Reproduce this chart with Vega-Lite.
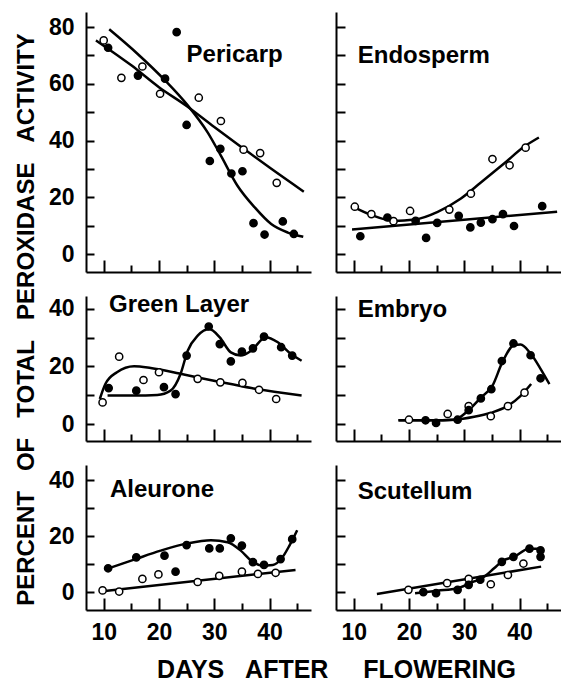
{
  "$schema": "https://vega.github.io/schema/vega-lite/v6.json",
  "padding": {"left": 13, "top": 12, "right": 0, "bottom": 0},
  "background": "white",
  "config": {
    "view": {"stroke": null},
    "axis": {"grid": false, "domainColor": "black", "domainWidth": 2, "tickColor": "black", "tickWidth": 2, "labelColor": "black", "labelFont": "Liberation Sans", "labelFontSize": 23, "labelFontWeight": "bold", "labelFlush": false, "labelOverlap": false, "titleFont": "Liberation Sans", "titleColor": "black", "titleFontWeight": "bold", "titleFontSize": 24}
  },
  "datasets": {
    "pts": [
      {"panel": "Pericarp", "type": "open", "day": 10.0, "pct": 75.3},
      {"panel": "Pericarp", "type": "open", "day": 13.2, "pct": 62.1},
      {"panel": "Pericarp", "type": "open", "day": 17.0, "pct": 66.1},
      {"panel": "Pericarp", "type": "open", "day": 20.2, "pct": 56.5},
      {"panel": "Pericarp", "type": "open", "day": 27.2, "pct": 55.1},
      {"panel": "Pericarp", "type": "open", "day": 31.2, "pct": 46.9},
      {"panel": "Pericarp", "type": "open", "day": 35.3, "pct": 36.8},
      {"panel": "Pericarp", "type": "open", "day": 38.3, "pct": 35.6},
      {"panel": "Pericarp", "type": "open", "day": 41.3, "pct": 25.1},
      {"panel": "Pericarp", "type": "filled", "day": 10.8, "pct": 72.7},
      {"panel": "Pericarp", "type": "filled", "day": 16.2, "pct": 62.9},
      {"panel": "Pericarp", "type": "filled", "day": 21.1, "pct": 61.8},
      {"panel": "Pericarp", "type": "filled", "day": 23.2, "pct": 78.2},
      {"panel": "Pericarp", "type": "filled", "day": 25.0, "pct": 45.5},
      {"panel": "Pericarp", "type": "filled", "day": 29.2, "pct": 32.8},
      {"panel": "Pericarp", "type": "filled", "day": 31.1, "pct": 37.1},
      {"panel": "Pericarp", "type": "filled", "day": 33.1, "pct": 28.4},
      {"panel": "Pericarp", "type": "filled", "day": 35.1, "pct": 29.2},
      {"panel": "Pericarp", "type": "filled", "day": 37.1, "pct": 10.9},
      {"panel": "Pericarp", "type": "filled", "day": 39.1, "pct": 6.9},
      {"panel": "Pericarp", "type": "filled", "day": 42.4, "pct": 11.5},
      {"panel": "Pericarp", "type": "filled", "day": 44.4, "pct": 7.1},
      {"panel": "Endosperm", "type": "open", "day": 10.2, "pct": 16.7},
      {"panel": "Endosperm", "type": "open", "day": 13.2, "pct": 14.1},
      {"panel": "Endosperm", "type": "open", "day": 17.2, "pct": 11.6},
      {"panel": "Endosperm", "type": "open", "day": 20.2, "pct": 15.2},
      {"panel": "Endosperm", "type": "open", "day": 27.3, "pct": 15.7},
      {"panel": "Endosperm", "type": "open", "day": 31.2, "pct": 21.3},
      {"panel": "Endosperm", "type": "open", "day": 35.1, "pct": 33.5},
      {"panel": "Endosperm", "type": "open", "day": 38.2, "pct": 31.3},
      {"panel": "Endosperm", "type": "open", "day": 41.1, "pct": 37.5},
      {"panel": "Endosperm", "type": "filled", "day": 11.2, "pct": 6.3},
      {"panel": "Endosperm", "type": "filled", "day": 16.1, "pct": 12.9},
      {"panel": "Endosperm", "type": "filled", "day": 21.2, "pct": 11.7},
      {"panel": "Endosperm", "type": "filled", "day": 23.1, "pct": 5.7},
      {"panel": "Endosperm", "type": "filled", "day": 25.1, "pct": 11.0},
      {"panel": "Endosperm", "type": "filled", "day": 29.0, "pct": 13.5},
      {"panel": "Endosperm", "type": "filled", "day": 31.1, "pct": 9.4},
      {"panel": "Endosperm", "type": "filled", "day": 33.0, "pct": 11.1},
      {"panel": "Endosperm", "type": "filled", "day": 35.1, "pct": 12.3},
      {"panel": "Endosperm", "type": "filled", "day": 37.0, "pct": 14.1},
      {"panel": "Endosperm", "type": "filled", "day": 39.0, "pct": 9.9},
      {"panel": "Endosperm", "type": "filled", "day": 44.1, "pct": 16.9},
      {"panel": "Green Layer", "type": "open", "day": 9.8, "pct": 7.5},
      {"panel": "Green Layer", "type": "open", "day": 12.8, "pct": 23.4},
      {"panel": "Green Layer", "type": "open", "day": 17.2, "pct": 15.3},
      {"panel": "Green Layer", "type": "open", "day": 20.0, "pct": 18.0},
      {"panel": "Green Layer", "type": "open", "day": 27.0, "pct": 15.7},
      {"panel": "Green Layer", "type": "open", "day": 31.1, "pct": 14.5},
      {"panel": "Green Layer", "type": "open", "day": 35.1, "pct": 14.3},
      {"panel": "Green Layer", "type": "open", "day": 38.1, "pct": 11.9},
      {"panel": "Green Layer", "type": "open", "day": 41.2, "pct": 8.7},
      {"panel": "Green Layer", "type": "filled", "day": 10.9, "pct": 12.5},
      {"panel": "Green Layer", "type": "filled", "day": 15.9, "pct": 11.6},
      {"panel": "Green Layer", "type": "filled", "day": 20.9, "pct": 12.8},
      {"panel": "Green Layer", "type": "filled", "day": 23.0, "pct": 10.4},
      {"panel": "Green Layer", "type": "filled", "day": 25.0, "pct": 23.8},
      {"panel": "Green Layer", "type": "filled", "day": 29.0, "pct": 33.9},
      {"panel": "Green Layer", "type": "filled", "day": 31.0, "pct": 27.8},
      {"panel": "Green Layer", "type": "filled", "day": 33.0, "pct": 21.8},
      {"panel": "Green Layer", "type": "filled", "day": 35.0, "pct": 25.2},
      {"panel": "Green Layer", "type": "filled", "day": 37.0, "pct": 26.3},
      {"panel": "Green Layer", "type": "filled", "day": 39.0, "pct": 30.4},
      {"panel": "Green Layer", "type": "filled", "day": 42.1, "pct": 26.7},
      {"panel": "Green Layer", "type": "filled", "day": 44.1, "pct": 23.8},
      {"panel": "Embryo", "type": "open", "day": 20.0, "pct": 1.5},
      {"panel": "Embryo", "type": "open", "day": 27.0, "pct": 3.5},
      {"panel": "Embryo", "type": "open", "day": 30.8, "pct": 6.2},
      {"panel": "Embryo", "type": "open", "day": 34.8, "pct": 2.7},
      {"panel": "Embryo", "type": "open", "day": 37.9, "pct": 6.2},
      {"panel": "Embryo", "type": "open", "day": 40.9, "pct": 10.9},
      {"panel": "Embryo", "type": "filled", "day": 23.0, "pct": 1.3},
      {"panel": "Embryo", "type": "filled", "day": 24.9, "pct": 0.4},
      {"panel": "Embryo", "type": "filled", "day": 28.8, "pct": 1.5},
      {"panel": "Embryo", "type": "filled", "day": 30.8, "pct": 4.8},
      {"panel": "Embryo", "type": "filled", "day": 33.0, "pct": 8.9},
      {"panel": "Embryo", "type": "filled", "day": 34.9, "pct": 12.1},
      {"panel": "Embryo", "type": "filled", "day": 36.8, "pct": 21.9},
      {"panel": "Embryo", "type": "filled", "day": 38.9, "pct": 28.0},
      {"panel": "Embryo", "type": "filled", "day": 42.0, "pct": 23.9},
      {"panel": "Embryo", "type": "filled", "day": 43.8, "pct": 15.9},
      {"panel": "Aleurone", "type": "open", "day": 9.8, "pct": 0.6},
      {"panel": "Aleurone", "type": "open", "day": 12.8, "pct": 0.2},
      {"panel": "Aleurone", "type": "open", "day": 17.0, "pct": 4.7},
      {"panel": "Aleurone", "type": "open", "day": 19.9, "pct": 6.3},
      {"panel": "Aleurone", "type": "open", "day": 27.0, "pct": 3.6},
      {"panel": "Aleurone", "type": "open", "day": 30.9, "pct": 5.8},
      {"panel": "Aleurone", "type": "open", "day": 35.0, "pct": 7.3},
      {"panel": "Aleurone", "type": "open", "day": 37.9, "pct": 6.5},
      {"panel": "Aleurone", "type": "open", "day": 41.1, "pct": 6.9},
      {"panel": "Aleurone", "type": "filled", "day": 10.8, "pct": 8.5},
      {"panel": "Aleurone", "type": "filled", "day": 15.9, "pct": 12.4},
      {"panel": "Aleurone", "type": "filled", "day": 21.0, "pct": 13.0},
      {"panel": "Aleurone", "type": "filled", "day": 23.0, "pct": 7.3},
      {"panel": "Aleurone", "type": "filled", "day": 25.0, "pct": 16.8},
      {"panel": "Aleurone", "type": "filled", "day": 29.1, "pct": 15.6},
      {"panel": "Aleurone", "type": "filled", "day": 31.0, "pct": 15.6},
      {"panel": "Aleurone", "type": "filled", "day": 33.0, "pct": 19.2},
      {"panel": "Aleurone", "type": "filled", "day": 35.0, "pct": 16.6},
      {"panel": "Aleurone", "type": "filled", "day": 37.0, "pct": 10.7},
      {"panel": "Aleurone", "type": "filled", "day": 39.0, "pct": 9.7},
      {"panel": "Aleurone", "type": "filled", "day": 42.0, "pct": 11.8},
      {"panel": "Aleurone", "type": "filled", "day": 44.1, "pct": 18.9},
      {"panel": "Scutellum", "type": "open", "day": 19.9, "pct": 0.8},
      {"panel": "Scutellum", "type": "open", "day": 26.9, "pct": 3.2},
      {"panel": "Scutellum", "type": "open", "day": 30.8, "pct": 4.7},
      {"panel": "Scutellum", "type": "open", "day": 34.8, "pct": 2.8},
      {"panel": "Scutellum", "type": "open", "day": 37.9, "pct": 6.1},
      {"panel": "Scutellum", "type": "open", "day": 40.7, "pct": 10.2},
      {"panel": "Scutellum", "type": "filled", "day": 22.6, "pct": 0.0},
      {"panel": "Scutellum", "type": "filled", "day": 24.9, "pct": -0.4},
      {"panel": "Scutellum", "type": "filled", "day": 28.8, "pct": 0.8},
      {"panel": "Scutellum", "type": "filled", "day": 30.8, "pct": 2.6},
      {"panel": "Scutellum", "type": "filled", "day": 32.9, "pct": 4.4},
      {"panel": "Scutellum", "type": "filled", "day": 36.8, "pct": 10.8},
      {"panel": "Scutellum", "type": "filled", "day": 38.9, "pct": 12.6},
      {"panel": "Scutellum", "type": "filled", "day": 41.8, "pct": 15.5},
      {"panel": "Scutellum", "type": "filled", "day": 43.8, "pct": 14.9},
      {"panel": "Scutellum", "type": "filled", "day": 43.8, "pct": 12.6}
    ],
    "curves": [
      {"panel": "Pericarp", "series": "open", "day": 8.6, "pct": 75.3},
      {"panel": "Pericarp", "series": "open", "day": 15, "pct": 66.5},
      {"panel": "Pericarp", "series": "open", "day": 20, "pct": 58.8},
      {"panel": "Pericarp", "series": "open", "day": 25, "pct": 52.2},
      {"panel": "Pericarp", "series": "open", "day": 30, "pct": 44.8},
      {"panel": "Pericarp", "series": "open", "day": 35, "pct": 37.6},
      {"panel": "Pericarp", "series": "open", "day": 40, "pct": 30.5},
      {"panel": "Pericarp", "series": "open", "day": 46.2, "pct": 22.0},
      {"panel": "Pericarp", "series": "filled", "day": 11.0, "pct": 79.2},
      {"panel": "Pericarp", "series": "filled", "day": 16.1, "pct": 70.6},
      {"panel": "Pericarp", "series": "filled", "day": 21.1, "pct": 61.2},
      {"panel": "Pericarp", "series": "filled", "day": 25.2, "pct": 52.4},
      {"panel": "Pericarp", "series": "filled", "day": 28.8, "pct": 42.9},
      {"panel": "Pericarp", "series": "filled", "day": 31.2, "pct": 34.7},
      {"panel": "Pericarp", "series": "filled", "day": 34.2, "pct": 24.1},
      {"panel": "Pericarp", "series": "filled", "day": 37.3, "pct": 16.5},
      {"panel": "Pericarp", "series": "filled", "day": 40.3, "pct": 10.6},
      {"panel": "Pericarp", "series": "filled", "day": 43.3, "pct": 7.6},
      {"panel": "Pericarp", "series": "filled", "day": 46.1, "pct": 6.1},
      {"panel": "Endosperm", "series": "filled", "day": 9.7, "pct": 8.7},
      {"panel": "Endosperm", "series": "filled", "day": 46.8, "pct": 14.9},
      {"panel": "Endosperm", "series": "open", "day": 10.2, "pct": 16.4},
      {"panel": "Endosperm", "series": "open", "day": 13.3, "pct": 13.7},
      {"panel": "Endosperm", "series": "open", "day": 17.2, "pct": 11.7},
      {"panel": "Endosperm", "series": "open", "day": 21.1, "pct": 12.2},
      {"panel": "Endosperm", "series": "open", "day": 25.2, "pct": 14.9},
      {"panel": "Endosperm", "series": "open", "day": 29.4, "pct": 19.6},
      {"panel": "Endosperm", "series": "open", "day": 33.0, "pct": 25.2},
      {"panel": "Endosperm", "series": "open", "day": 37.2, "pct": 31.9},
      {"panel": "Endosperm", "series": "open", "day": 40.8, "pct": 37.8},
      {"panel": "Endosperm", "series": "open", "day": 43.5, "pct": 41.1},
      {"panel": "Green Layer", "series": "open", "day": 9.3, "pct": 8.7},
      {"panel": "Green Layer", "series": "open", "day": 10.3, "pct": 13.9},
      {"panel": "Green Layer", "series": "open", "day": 12.4, "pct": 18.0},
      {"panel": "Green Layer", "series": "open", "day": 15.5, "pct": 20.1},
      {"panel": "Green Layer", "series": "open", "day": 18.5, "pct": 19.5},
      {"panel": "Green Layer", "series": "open", "day": 24.5, "pct": 17.2},
      {"panel": "Green Layer", "series": "open", "day": 30.6, "pct": 14.8},
      {"panel": "Green Layer", "series": "open", "day": 36.7, "pct": 12.5},
      {"panel": "Green Layer", "series": "open", "day": 45.8, "pct": 9.9},
      {"panel": "Green Layer", "series": "filled", "day": 10.7, "pct": 9.9},
      {"panel": "Green Layer", "series": "filled", "day": 15.5, "pct": 9.9},
      {"panel": "Green Layer", "series": "filled", "day": 19.7, "pct": 10.1},
      {"panel": "Green Layer", "series": "filled", "day": 22.1, "pct": 11.6},
      {"panel": "Green Layer", "series": "filled", "day": 23.9, "pct": 17.4},
      {"panel": "Green Layer", "series": "filled", "day": 25.2, "pct": 25.5},
      {"panel": "Green Layer", "series": "filled", "day": 27.0, "pct": 30.7},
      {"panel": "Green Layer", "series": "filled", "day": 29.1, "pct": 33.0},
      {"panel": "Green Layer", "series": "filled", "day": 31.0, "pct": 30.1},
      {"panel": "Green Layer", "series": "filled", "day": 33.0, "pct": 24.9},
      {"panel": "Green Layer", "series": "filled", "day": 34.8, "pct": 23.8},
      {"panel": "Green Layer", "series": "filled", "day": 36.7, "pct": 25.5},
      {"panel": "Green Layer", "series": "filled", "day": 39.3, "pct": 30.2},
      {"panel": "Green Layer", "series": "filled", "day": 41.5, "pct": 28.4},
      {"panel": "Green Layer", "series": "filled", "day": 43.9, "pct": 24.3},
      {"panel": "Green Layer", "series": "filled", "day": 45.8, "pct": 22.0},
      {"panel": "Embryo", "series": "filled", "day": 18.1, "pct": 1.3},
      {"panel": "Embryo", "series": "filled", "day": 24.0, "pct": 1.3},
      {"panel": "Embryo", "series": "filled", "day": 28.2, "pct": 1.5},
      {"panel": "Embryo", "series": "filled", "day": 30.6, "pct": 4.5},
      {"panel": "Embryo", "series": "filled", "day": 33.0, "pct": 9.2},
      {"panel": "Embryo", "series": "filled", "day": 35.1, "pct": 13.3},
      {"panel": "Embryo", "series": "filled", "day": 36.9, "pct": 21.5},
      {"panel": "Embryo", "series": "filled", "day": 39.0, "pct": 27.4},
      {"panel": "Embryo", "series": "filled", "day": 40.2, "pct": 27.6},
      {"panel": "Embryo", "series": "filled", "day": 42.0, "pct": 24.5},
      {"panel": "Embryo", "series": "filled", "day": 43.8, "pct": 19.2},
      {"panel": "Embryo", "series": "filled", "day": 45.4, "pct": 13.9},
      {"panel": "Embryo", "series": "open", "day": 18.1, "pct": 1.3},
      {"panel": "Embryo", "series": "open", "day": 24.0, "pct": 1.3},
      {"panel": "Embryo", "series": "open", "day": 28.2, "pct": 1.5},
      {"panel": "Embryo", "series": "open", "day": 31.8, "pct": 2.5},
      {"panel": "Embryo", "series": "open", "day": 34.8, "pct": 3.9},
      {"panel": "Embryo", "series": "open", "day": 37.8, "pct": 6.2},
      {"panel": "Embryo", "series": "open", "day": 40.2, "pct": 9.8},
      {"panel": "Embryo", "series": "open", "day": 42.1, "pct": 13.9},
      {"panel": "Aleurone", "series": "open", "day": 9.4, "pct": 0.2},
      {"panel": "Aleurone", "series": "open", "day": 44.7, "pct": 7.9},
      {"panel": "Aleurone", "series": "filled", "day": 10.6, "pct": 8.3},
      {"panel": "Aleurone", "series": "filled", "day": 15.5, "pct": 11.6},
      {"panel": "Aleurone", "series": "filled", "day": 20.3, "pct": 14.8},
      {"panel": "Aleurone", "series": "filled", "day": 25.2, "pct": 17.4},
      {"panel": "Aleurone", "series": "filled", "day": 29.4, "pct": 18.5},
      {"panel": "Aleurone", "series": "filled", "day": 32.4, "pct": 17.8},
      {"panel": "Aleurone", "series": "filled", "day": 34.8, "pct": 14.8},
      {"panel": "Aleurone", "series": "filled", "day": 36.7, "pct": 11.2},
      {"panel": "Aleurone", "series": "filled", "day": 38.5, "pct": 9.5},
      {"panel": "Aleurone", "series": "filled", "day": 40.6, "pct": 9.7},
      {"panel": "Aleurone", "series": "filled", "day": 42.1, "pct": 11.8},
      {"panel": "Aleurone", "series": "filled", "day": 43.6, "pct": 16.6},
      {"panel": "Aleurone", "series": "filled", "day": 45.0, "pct": 22.1},
      {"panel": "Scutellum", "series": "open", "day": 14.2, "pct": -0.7},
      {"panel": "Scutellum", "series": "open", "day": 43.9, "pct": 9.1},
      {"panel": "Scutellum", "series": "filled", "day": 21.1, "pct": -0.4},
      {"panel": "Scutellum", "series": "filled", "day": 25.2, "pct": 0.5},
      {"panel": "Scutellum", "series": "filled", "day": 28.8, "pct": 1.4},
      {"panel": "Scutellum", "series": "filled", "day": 31.8, "pct": 3.8},
      {"panel": "Scutellum", "series": "filled", "day": 33.6, "pct": 5.5},
      {"panel": "Scutellum", "series": "filled", "day": 35.4, "pct": 8.5},
      {"panel": "Scutellum", "series": "filled", "day": 36.9, "pct": 11.1},
      {"panel": "Scutellum", "series": "filled", "day": 39.0, "pct": 12.6},
      {"panel": "Scutellum", "series": "filled", "day": 41.7, "pct": 15.5},
      {"panel": "Scutellum", "series": "filled", "day": 44.2, "pct": 15.5}
    ],
    "labels": [
      {"panel": "Pericarp", "label": "Pericarp", "day": 25.0, "pct": 67.7},
      {"panel": "Endosperm", "label": "Endosperm", "day": 10.73, "pct": 67.3},
      {"panel": "Green Layer", "label": "Green Layer", "day": 10.96, "pct": 39.0},
      {"panel": "Embryo", "label": "Embryo", "day": 10.73, "pct": 37.2},
      {"panel": "Aleurone", "label": "Aleurone", "day": 11.14, "pct": 34.0},
      {"panel": "Scutellum", "label": "Scutellum", "day": 10.73, "pct": 33.25}
    ]
  },
  "columns": 2,
  "align": "each",
  "bounds": "flush",
  "spacing": {"row": 24, "column": 25},
  "concat": [
    {
      "width": 225, "height": 260,
      "encoding": {
        "x": {"field": "day", "type": "quantitative", "scale": {"domain": [6.8, 47.5], "nice": false, "zero": false},
              "axis": {"values": [10, 15, 20, 25, 30, 35, 40, 45], "tickSize": {"condition": {"test": "datum.value % 10 === 0", "value": -12}, "value": -7}, "labels": false, "title": null}},
        "y": {"field": "pct", "type": "quantitative", "scale": {"domain": [-6.3, 85.3], "nice": false, "zero": false},
              "axis": {"values": [0, 10, 20, 30, 40, 50, 60, 70, 80], "tickSize": -8, "labelPadding": 20, "labelExpr": "datum.value % 20 === 0 ? datum.label : ''", "title": null}}
      },
      "layer": [
        {"data": {"name": "curves"}, "transform": [{"filter": "datum.panel === 'Pericarp'"}], "mark": {"type": "line", "interpolate": "monotone", "color": "black", "strokeWidth": 2.5}, "encoding": {"detail": {"field": "series"}}},
        {"data": {"name": "pts"}, "transform": [{"filter": "datum.panel === 'Pericarp'"}], "mark": {"type": "point", "filled": true, "stroke": "black", "strokeWidth": 1.5, "size": 52, "opacity": 1}, "encoding": {"fill": {"field": "type", "type": "nominal", "scale": {"domain": ["open", "filled"], "range": ["white", "black"]}, "legend": null}}},
        {"data": {"name": "labels"}, "transform": [{"filter": "datum.panel === 'Pericarp'"}], "mark": {"type": "text", "align": "left", "baseline": "alphabetic", "fontSize": 24, "fontWeight": "bold", "font": "Liberation Sans", "color": "black"}, "encoding": {"text": {"field": "label"}}}
      ]
    },
    {
      "width": 225, "height": 260,
      "encoding": {
        "x": {"field": "day", "type": "quantitative", "scale": {"domain": [6.8, 47.5], "nice": false, "zero": false},
              "axis": {"values": [10, 15, 20, 25, 30, 35, 40, 45], "tickSize": {"condition": {"test": "datum.value % 10 === 0", "value": -12}, "value": -7}, "labels": false, "title": null}},
        "y": {"field": "pct", "type": "quantitative", "scale": {"domain": [-6.3, 85.3], "nice": false, "zero": false},
              "axis": {"values": [0, 10, 20, 30, 40, 50, 60, 70, 80], "tickSize": -9, "labels": false, "title": null}}
      },
      "layer": [
        {"data": {"name": "curves"}, "transform": [{"filter": "datum.panel === 'Endosperm'"}], "mark": {"type": "line", "interpolate": "monotone", "color": "black", "strokeWidth": 2.5}, "encoding": {"detail": {"field": "series"}}},
        {"data": {"name": "pts"}, "transform": [{"filter": "datum.panel === 'Endosperm'"}], "mark": {"type": "point", "filled": true, "stroke": "black", "strokeWidth": 1.5, "size": 52, "opacity": 1}, "encoding": {"fill": {"field": "type", "type": "nominal", "scale": {"domain": ["open", "filled"], "range": ["white", "black"]}, "legend": null}}},
        {"data": {"name": "labels"}, "transform": [{"filter": "datum.panel === 'Endosperm'"}], "mark": {"type": "text", "align": "left", "baseline": "alphabetic", "fontSize": 24, "fontWeight": "bold", "font": "Liberation Sans", "color": "black"}, "encoding": {"text": {"field": "label"}}}
      ]
    },
    {
      "width": 225, "height": 145,
      "encoding": {
        "x": {"field": "day", "type": "quantitative", "scale": {"domain": [6.8, 47.5], "nice": false, "zero": false},
              "axis": {"values": [10, 15, 20, 25, 30, 35, 40, 45], "tickSize": {"condition": {"test": "datum.value % 10 === 0", "value": -12}, "value": -7}, "labels": false, "title": null}},
        "y": {"field": "pct", "type": "quantitative", "scale": {"domain": [-5.9, 44.5], "nice": false, "zero": false},
              "axis": {"values": [0, 10, 20, 30, 40], "tickSize": -8, "labelPadding": 20, "labelExpr": "datum.value % 20 === 0 ? datum.label : ''",
                       "title": "PERCENT\u00a0\u00a0\u00a0OF\u00a0\u00a0\u00a0TOTAL\u00a0\u00a0\u00a0PEROXIDASE\u00a0\u00a0\u00a0ACTIVITY", "titleX": -53, "titleY": 23, "titleAngle": -90, "titleAlign": "center", "titleBaseline": "alphabetic"}}
      },
      "layer": [
        {"data": {"name": "curves"}, "transform": [{"filter": "datum.panel === 'Green Layer'"}], "mark": {"type": "line", "interpolate": "monotone", "color": "black", "strokeWidth": 2.5}, "encoding": {"detail": {"field": "series"}}},
        {"data": {"name": "pts"}, "transform": [{"filter": "datum.panel === 'Green Layer'"}], "mark": {"type": "point", "filled": true, "stroke": "black", "strokeWidth": 1.5, "size": 52, "opacity": 1}, "encoding": {"fill": {"field": "type", "type": "nominal", "scale": {"domain": ["open", "filled"], "range": ["white", "black"]}, "legend": null}}},
        {"data": {"name": "labels"}, "transform": [{"filter": "datum.panel === 'Green Layer'"}], "mark": {"type": "text", "align": "left", "baseline": "alphabetic", "fontSize": 24, "fontWeight": "bold", "font": "Liberation Sans", "color": "black"}, "encoding": {"text": {"field": "label"}}}
      ]
    },
    {
      "width": 225, "height": 145,
      "encoding": {
        "x": {"field": "day", "type": "quantitative", "scale": {"domain": [6.8, 47.5], "nice": false, "zero": false},
              "axis": {"values": [10, 15, 20, 25, 30, 35, 40, 45], "tickSize": {"condition": {"test": "datum.value % 10 === 0", "value": -12}, "value": -7}, "labels": false, "title": null}},
        "y": {"field": "pct", "type": "quantitative", "scale": {"domain": [-5.9, 44.5], "nice": false, "zero": false},
              "axis": {"values": [0, 10, 20, 30, 40], "tickSize": -9, "labels": false, "title": null}}
      },
      "layer": [
        {"data": {"name": "curves"}, "transform": [{"filter": "datum.panel === 'Embryo'"}], "mark": {"type": "line", "interpolate": "monotone", "color": "black", "strokeWidth": 2.5}, "encoding": {"detail": {"field": "series"}}},
        {"data": {"name": "pts"}, "transform": [{"filter": "datum.panel === 'Embryo'"}], "mark": {"type": "point", "filled": true, "stroke": "black", "strokeWidth": 1.5, "size": 52, "opacity": 1}, "encoding": {"fill": {"field": "type", "type": "nominal", "scale": {"domain": ["open", "filled"], "range": ["white", "black"]}, "legend": null}}},
        {"data": {"name": "labels"}, "transform": [{"filter": "datum.panel === 'Embryo'"}], "mark": {"type": "text", "align": "left", "baseline": "alphabetic", "fontSize": 24, "fontWeight": "bold", "font": "Liberation Sans", "color": "black"}, "encoding": {"text": {"field": "label"}}}
      ]
    },
    {
      "width": 225, "height": 145,
      "encoding": {
        "x": {"field": "day", "type": "quantitative", "scale": {"domain": [6.8, 47.5], "nice": false, "zero": false},
              "axis": {"values": [10, 15, 20, 25, 30, 35, 40, 45], "tickSize": {"condition": {"test": "datum.value % 10 === 0", "value": -12}, "value": -7}, "labels": true, "labelExpr": "datum.value % 10 === 0 ? datum.label : ''", "labelPadding": 41, "labelBaseline": "alphabetic",
                       "title": "DAYS\u00a0\u00a0\u00a0AFTER\u00a0\u00a0\u00a0\u00a0\u00a0FLOWERING", "titleFontSize": 25, "titleX": 250, "titleY": 67, "titleAlign": "center", "titleBaseline": "alphabetic", "titleAngle": 0}},
        "y": {"field": "pct", "type": "quantitative", "scale": {"domain": [-6.4, 45.4], "nice": false, "zero": false},
              "axis": {"values": [0, 10, 20, 30, 40], "tickSize": -8, "labelPadding": 20, "labelExpr": "datum.value % 20 === 0 ? datum.label : ''", "title": null}}
      },
      "layer": [
        {"data": {"name": "curves"}, "transform": [{"filter": "datum.panel === 'Aleurone'"}], "mark": {"type": "line", "interpolate": "monotone", "color": "black", "strokeWidth": 2.5}, "encoding": {"detail": {"field": "series"}}},
        {"data": {"name": "pts"}, "transform": [{"filter": "datum.panel === 'Aleurone'"}], "mark": {"type": "point", "filled": true, "stroke": "black", "strokeWidth": 1.5, "size": 52, "opacity": 1}, "encoding": {"fill": {"field": "type", "type": "nominal", "scale": {"domain": ["open", "filled"], "range": ["white", "black"]}, "legend": null}}},
        {"data": {"name": "labels"}, "transform": [{"filter": "datum.panel === 'Aleurone'"}], "mark": {"type": "text", "align": "left", "baseline": "alphabetic", "fontSize": 24, "fontWeight": "bold", "font": "Liberation Sans", "color": "black"}, "encoding": {"text": {"field": "label"}}}
      ]
    },
    {
      "width": 225, "height": 145,
      "encoding": {
        "x": {"field": "day", "type": "quantitative", "scale": {"domain": [6.8, 47.5], "nice": false, "zero": false},
              "axis": {"values": [10, 15, 20, 25, 30, 35, 40, 45], "tickSize": {"condition": {"test": "datum.value % 10 === 0", "value": -12}, "value": -7}, "labels": true, "labelExpr": "datum.value % 10 === 0 ? datum.label : ''", "labelPadding": 41, "labelBaseline": "alphabetic", "title": null}},
        "y": {"field": "pct", "type": "quantitative", "scale": {"domain": [-6.4, 45.4], "nice": false, "zero": false},
              "axis": {"values": [0, 10, 20, 30, 40], "tickSize": -9, "labels": false, "title": null}}
      },
      "layer": [
        {"data": {"name": "curves"}, "transform": [{"filter": "datum.panel === 'Scutellum'"}], "mark": {"type": "line", "interpolate": "monotone", "color": "black", "strokeWidth": 2.5}, "encoding": {"detail": {"field": "series"}}},
        {"data": {"name": "pts"}, "transform": [{"filter": "datum.panel === 'Scutellum'"}], "mark": {"type": "point", "filled": true, "stroke": "black", "strokeWidth": 1.5, "size": 52, "opacity": 1}, "encoding": {"fill": {"field": "type", "type": "nominal", "scale": {"domain": ["open", "filled"], "range": ["white", "black"]}, "legend": null}}},
        {"data": {"name": "labels"}, "transform": [{"filter": "datum.panel === 'Scutellum'"}], "mark": {"type": "text", "align": "left", "baseline": "alphabetic", "fontSize": 24, "fontWeight": "bold", "font": "Liberation Sans", "color": "black"}, "encoding": {"text": {"field": "label"}}}
      ]
    }
  ]
}
